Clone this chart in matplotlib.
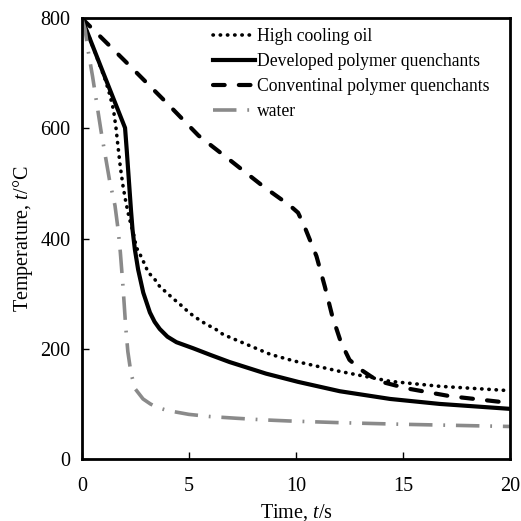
import numpy as np
import matplotlib.pyplot as plt

plt.rcParams['font.family'] = ['Liberation Serif', 'DejaVu Serif']
plt.rcParams['mathtext.fontset'] = 'custom'
plt.rcParams['mathtext.it'] = 'Liberation Serif:italic'
plt.rcParams['mathtext.rm'] = 'Liberation Serif'

# cooling curves: time (s), temperature (degC)
t_oil = [0, 0.6, 1.1, 1.3, 1.48, 1.6, 1.68, 1.8, 1.93, 2.05, 2.16, 2.28, 2.4, 2.55, 2.79, 3.1, 3.41,
         3.64, 3.96, 4.27, 4.58, 4.89, 5.2, 5.51, 5.83, 6.2, 6.6, 7.7, 8.8, 9.9, 12.05, 14.4, 16.7, 20.0]
T_oil = [800, 740, 688, 662, 634, 600, 571, 530, 494, 468, 447, 428, 411, 384, 366, 339, 326,
         313, 302, 291, 281, 270, 260, 252, 244, 237, 226, 208, 190, 178, 159, 141, 132, 124]

t_dev = [0, 1.0, 2.02, 2.1, 2.2, 2.3, 2.37, 2.48, 2.63, 2.87, 3.18, 3.4, 3.64, 4.0, 4.42, 5.2, 6.0,
         6.9, 8.6, 10.1, 12.05, 14.4, 16.7, 20.0]
T_dev = [800, 701, 601, 560, 505, 450, 416, 380, 344, 302, 266, 249, 236, 222, 212, 201, 189,
         176, 155, 140, 123, 109, 100, 91]

t_conv = [0, 2.0, 4.0, 5.45, 7.0, 8.5, 9.72, 10.1, 10.4, 10.96, 11.35, 11.7, 12.1, 12.5,
          13.0, 13.5, 13.9, 15.2, 17.2, 19.7, 20.0]
T_conv = [800, 723, 645, 587, 540, 494, 460, 447, 422, 368, 313, 259, 212, 180,
          163, 150, 141, 128, 114, 103, 101]

t_wat = [0, 0.15, 0.3, 0.5, 0.7, 0.9, 1.1, 1.3, 1.55, 1.7, 1.8, 1.93, 2.05, 2.15, 2.3, 2.5,
         2.86, 3.2, 3.5, 4.0, 5.0, 6.0, 7.2, 8.5, 9.7, 12.0, 15.0, 17.5, 20.0]
T_wat = [800, 780, 740, 695, 645, 595, 550, 505, 460, 415, 375, 310, 240, 195, 155, 127,
         109, 100, 94, 88, 81, 77, 74, 71, 69, 66, 63, 61, 59]

fig = plt.figure(figsize=(5.21, 5.21), dpi=100)
ax = fig.add_axes([0.157, 0.119, 0.822, 0.846])

ax.plot(t_oil, T_oil, color='black', lw=2.6, linestyle=(0, (0.1, 1.9)),
        dash_capstyle='round', label='High cooling oil')
ax.plot(t_dev, T_dev, color='black', lw=3.0, label='Developed polymer quenchants')
ax.plot(t_conv, T_conv, color='black', lw=3.0, linestyle=(0, (2.8, 3.4)),
        dash_capstyle='round', label='Conventinal polymer quenchants')
ax.plot(t_wat, T_wat, color='#8a8a8a', lw=2.6, linestyle=(0, (6.5, 3, 0.5, 3)),
        label='water')

ax.set_xlim(0, 20)
ax.set_ylim(0, 800)
ax.set_xticks([0, 5, 10, 15, 20])
ax.set_yticks([0, 200, 400, 600, 800])
ax.tick_params(direction='in', length=5, width=1, labelsize=14.5)
ax.tick_params(axis='x', pad=13)
ax.tick_params(axis='y', pad=8)
for s in ax.spines.values():
    s.set_linewidth(2)

ax.set_xlabel('Time, $\\mathit{t}$/s', fontsize=14.5, labelpad=4)
ax.set_ylabel('Temperature, $\\mathit{t}$/\u00b0C', fontsize=14.5, labelpad=4)

ax.legend(loc='upper left', frameon=False, fontsize=12.7, handlelength=2.4,
          handletextpad=0.1, labelspacing=0.45, borderaxespad=0,
          bbox_to_anchor=(0.29, 0.993))

fig.savefig('out.png', dpi=100)
